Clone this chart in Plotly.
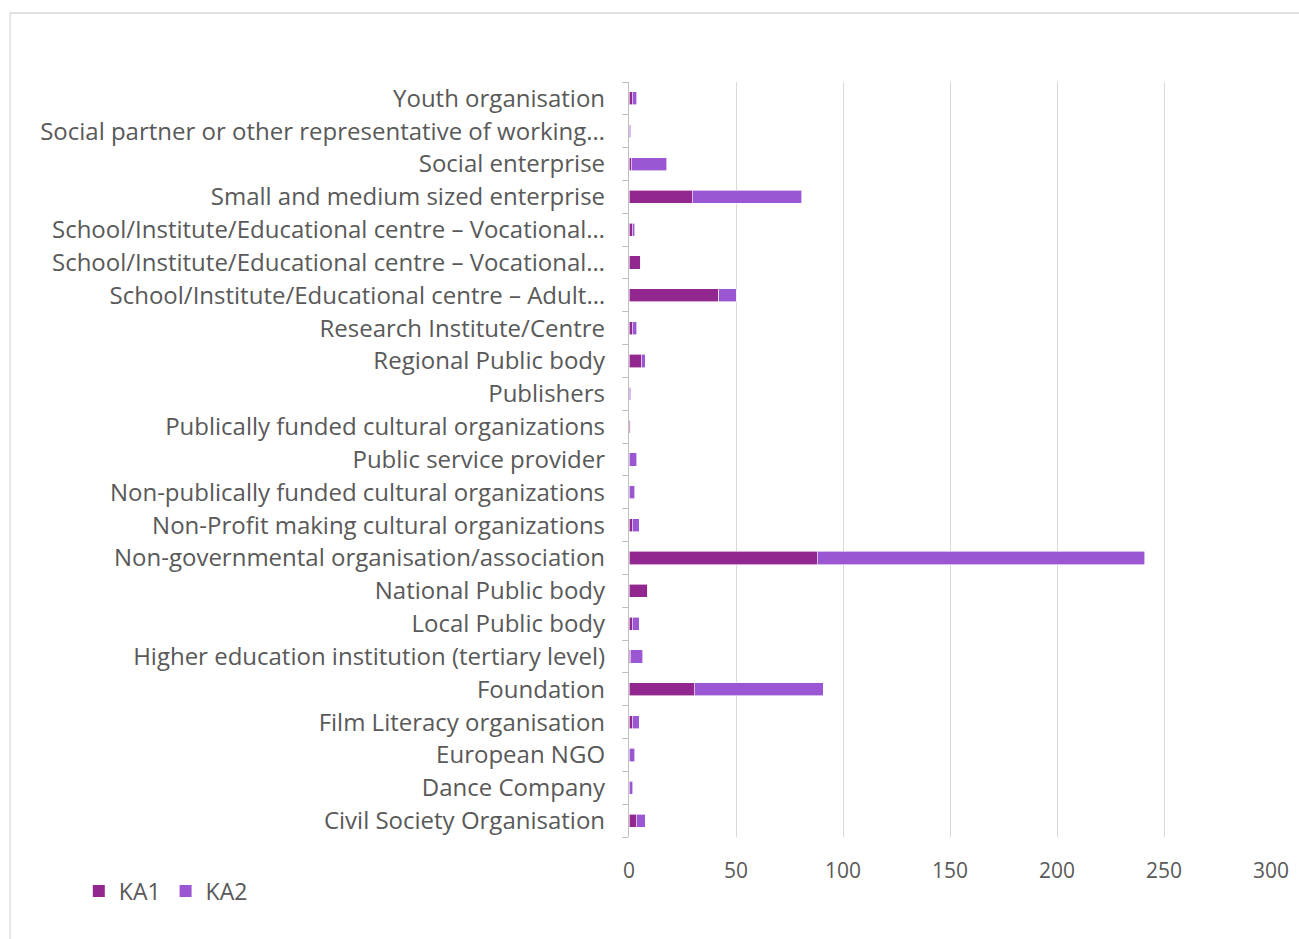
import plotly.graph_objects as go

categories = [
    "Civil Society Organisation",
    "Dance Company",
    "European NGO",
    "Film Literacy organisation",
    "Foundation",
    "Higher education institution (tertiary level)",
    "Local Public body",
    "National Public body",
    "Non-governmental organisation/association",
    "Non-Profit making cultural organizations",
    "Non-publically funded cultural organizations",
    "Public service provider",
    "Publically funded cultural organizations",
    "Publishers",
    "Regional Public body",
    "Research Institute/Centre",
    "School/Institute/Educational centre – Adult…",
    "School/Institute/Educational centre – Vocational…",
    "School/Institute/Educational centre – Vocational…\u200b",
    "Small and medium sized enterprise",
    "Social enterprise",
    "Social partner or other representative of working…",
    "Youth organisation",
]

ka1 = [3.3, 0, 0, 1.5, 30.5, 0.5, 1.5, 8.7, 88, 1.5, 0, 0, 0.8, 0, 5.8, 1.5, 42, 5.6, 1.5, 29.5, 1, 0, 1.5]
ka2 = [4.3, 1.7, 2.7, 3.2, 60.3, 6.0, 3.2, 0, 153, 3.2, 2.7, 3.6, 0, 0.8, 1.9, 2.1, 8.1, 0, 1.2, 51.3, 16.7, 0.8, 2.1]

x_ticks = [0, 50, 100, 150, 200, 250, 300]

FONT = "Open Sans"
GRAY = "#595959"
C1 = "#92278F"
C2 = "#9B57D3"

fig = go.Figure()
fig.add_trace(go.Bar(y=categories, x=ka1, name="KA1", orientation="h", showlegend=False,
                     marker=dict(color=C1, line=dict(color="white", width=0.6))))
fig.add_trace(go.Bar(y=categories, x=ka2, name="KA2", orientation="h", showlegend=False,
                     marker=dict(color=C2, line=dict(color="white", width=0.6))))
# legend entries as square markers
fig.add_trace(go.Scatter(x=[None], y=[None], mode="markers", name="KA1",
                         marker=dict(symbol="square", size=12, color=C1)))
fig.add_trace(go.Scatter(x=[None], y=[None], mode="markers", name="KA2",
                         marker=dict(symbol="square", size=12, color=C2)))

fig.update_layout(
    barmode="stack",
    bargap=0.6,
    width=1299, height=939,
    margin=dict(l=629, r=28, t=82, b=102, autoexpand=False),
    paper_bgcolor="white", plot_bgcolor="white",
    font=dict(family=FONT, color=GRAY),
    showlegend=True,
    legend=dict(orientation="h", x=-0.857, y=-0.043, xanchor="left", yanchor="top",
                font=dict(size=23, color=GRAY, family=FONT),
                itemwidth=30, traceorder="normal", tracegroupgap=0),
    xaxis=dict(range=[0, 300], tickvals=x_ticks, showgrid=True, gridcolor="#D9D9D9",
               gridwidth=1.3, zeroline=False, showline=False, ticks="",
               tickfont=dict(size=21, color=GRAY, family=FONT), ticklabelstandoff=19,
               fixedrange=True),
    yaxis=dict(type="category", categoryorder="array", categoryarray=categories,
               showline=True, linecolor="#BFBFBF", linewidth=1.3,
               ticks="outside", tickson="boundaries", ticklen=6, tickcolor="#BFBFBF",
               tickwidth=1.3, showgrid=False,
               tickfont=dict(size=24, color=GRAY, family=FONT), ticklabelstandoff=18,
               range=[-0.5, len(categories) - 0.5]),
    shapes=[dict(type="rect", xref="paper", yref="paper",
                 x0=(10 - 629) / 642, x1=(1320 - 629) / 642,
                 y0=(837 - 960) / 755, y1=(837 - 13) / 755,
                 line=dict(color="#D9D9D9", width=1.3), fillcolor="rgba(0,0,0,0)", layer="below")],
)

fig.write_html("out.html")
